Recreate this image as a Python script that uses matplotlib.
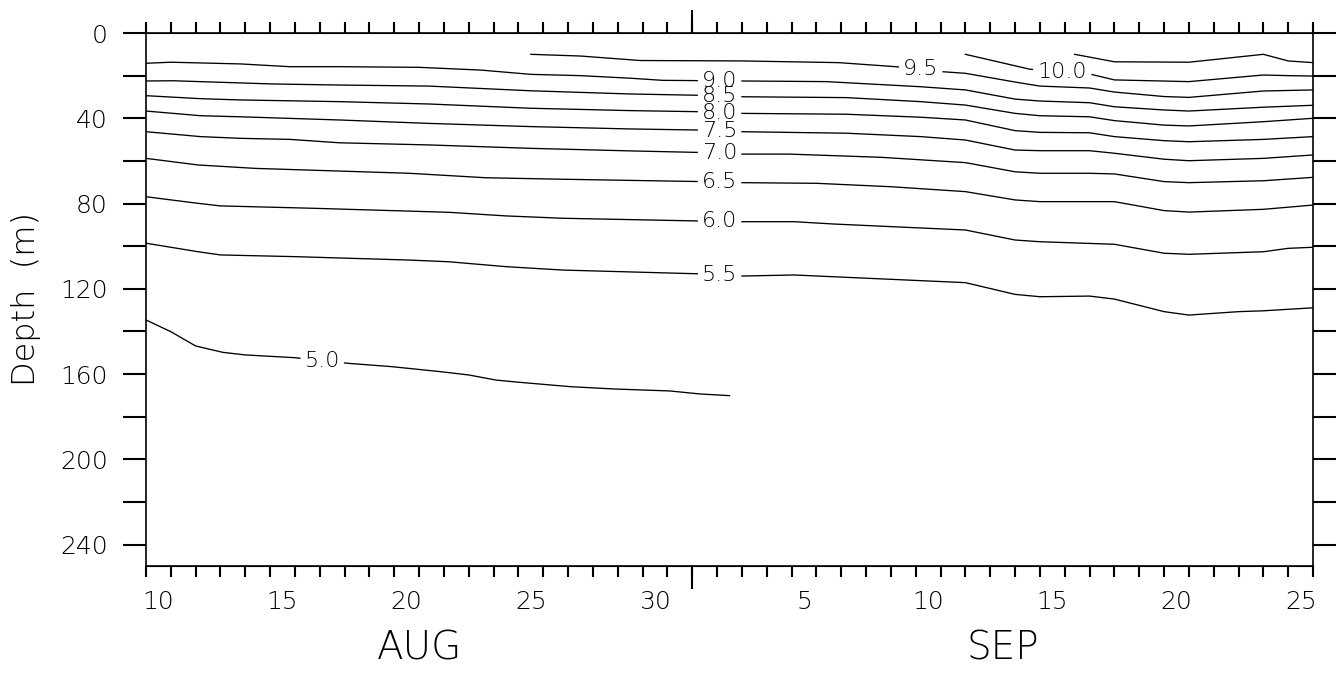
import numpy as np
import matplotlib.pyplot as plt

# time in days since 10 Aug 00Z (1 Sep 00Z = day 22), depth in metres
# isotherms read off the section, one pair of arrays per contour level

t_105 = [37.4, 39, 42, 45, 46, 47]
d_105 = [10.0, 13.5, 13.7, 10.0, 13.1, 13.9]

t_100 = [33, 35.6, 38, 39, 42, 45, 46, 47]
d_100 = [10.0, 17.0, 19.2, 22.0, 22.8, 19.7, 20.0, 20.2]

t_95 = [15.5, 17.5, 19.9, 24, 27.9, 30.2, 32, 33, 35, 36, 38, 39, 41, 42, 45, 47]
d_95 = [10.0, 10.8, 12.9, 13.1, 13.9, 15.8, 18.1, 18.9, 23.0, 24.9, 25.8, 27.7, 29.8, 30.2, 27.2, 26.7]

t_90 = [0, 1, 3.8, 5.8, 7.8, 11, 13.5, 15.5, 17.5, 19.5, 20.8, 24, 27.4, 29.6, 31.2, 33, 35, 36, 38, 39, 41, 42, 45, 47]
d_90 = [14.2, 13.7, 14.5, 15.8, 15.8, 16.1, 17.4, 19.4, 20.0, 21.2, 22.2, 22.5, 22.8, 24.2, 25.2, 26.7, 31.0, 31.9, 32.7, 34.6, 36.1, 36.6, 34.8, 33.9]

t_85 = [0, 1.1, 5.1, 7.8, 11.4, 15.5, 19.5, 22.2, 24, 28.2, 31.2, 33, 35, 36, 38, 39, 41, 42, 45, 47]
d_85 = [22.5, 22.4, 23.9, 24.4, 24.9, 27.1, 28.6, 29.2, 29.9, 30.3, 32.2, 33.8, 37.7, 38.8, 39.3, 41.1, 43.2, 43.6, 41.6, 40.0]

t_80 = [0, 2.2, 3.8, 7.8, 11.4, 15.5, 19.5, 22.2, 24, 28.2, 31.2, 33, 35, 36, 38, 39, 41, 42, 45, 47]
d_80 = [29.4, 30.8, 31.4, 32.2, 33.3, 35.3, 36.4, 36.9, 37.7, 38.1, 39.5, 40.8, 45.8, 46.6, 46.8, 48.6, 50.5, 51.0, 49.9, 48.6]

t_75 = [0, 2.2, 3.8, 7.8, 11.4, 15.5, 19.5, 22.2, 24, 28.2, 31.2, 33, 35, 36, 38, 39, 41, 42, 45, 47]
d_75 = [36.6, 38.8, 39.3, 40.8, 42.4, 43.9, 45.0, 45.5, 46.3, 47.0, 48.6, 50.2, 54.9, 55.2, 55.2, 56.4, 59.2, 59.9, 58.8, 57.2]

t_70 = [0, 2.2, 3.8, 5.8, 7.8, 11.4, 15.5, 19.5, 22.2, 24, 25.9, 29.6, 33, 35, 36, 38, 39, 41, 42, 45, 47]
d_70 = [46.3, 48.6, 49.4, 49.9, 51.5, 52.5, 54.1, 55.3, 56.0, 56.8, 56.8, 58.3, 60.8, 65.1, 65.8, 65.8, 66.1, 69.7, 70.2, 69.3, 67.7]

t_65 = [0, 2.1, 4.4, 10.6, 13.7, 16.8, 22.4, 24, 27, 30, 33, 35, 36, 39, 41, 42, 45, 47]
d_65 = [58.8, 61.9, 63.5, 65.8, 67.9, 68.6, 69.7, 70.2, 70.5, 72.1, 74.4, 78.3, 79.1, 79.1, 83.3, 84.0, 82.7, 80.7]

t_60 = [0, 2.1, 3, 6.7, 12.2, 14.5, 16.8, 22.4, 24, 26.1, 27.7, 33, 35, 36, 39, 41, 42, 45, 46, 47]
d_60 = [76.8, 79.9, 81.1, 82.2, 84.1, 85.8, 86.9, 88.2, 88.5, 88.5, 89.6, 92.4, 97.1, 97.9, 99.1, 103.3, 103.8, 102.6, 101.0, 100.5]

t_55 = [0, 2.1, 3, 6, 10.6, 12.2, 14.5, 16.8, 22.4, 24, 26.1, 33, 35, 36, 38, 39, 41, 42, 44, 45, 47]
d_55 = [98.6, 102.6, 104.1, 104.9, 106.5, 107.3, 109.6, 111.2, 113.0, 114.0, 113.5, 117.1, 122.6, 123.7, 123.4, 124.8, 130.7, 132.3, 130.7, 130.3, 128.9]

t_50 = [0, 1, 2, 3.1, 4, 6, 8.1, 9.9, 11.9, 13, 14.1, 15, 17.1, 18.9, 21.1, 22.3, 23.5]
d_50 = [134.6, 140.1, 146.8, 149.8, 151.0, 152.3, 154.9, 156.5, 158.9, 160.4, 162.8, 163.8, 165.9, 167.0, 167.9, 169.3, 170.1]

# label text and where along the line it sits (None = unlabeled)
lines = [
    (t_105, d_105, None, None),
    (t_100, d_100, "10.0", 36.9),
    (t_95, d_95, "9.5", 31.2),
    (t_90, d_90, "9.0", 23.1),
    (t_85, d_85, "8.5", 23.1),
    (t_80, d_80, "8.0", 23.1),
    (t_75, d_75, "7.5", 23.1),
    (t_70, d_70, "7.0", 23.1),
    (t_65, d_65, "6.5", 23.1),
    (t_60, d_60, "6.0", 23.1),
    (t_55, d_55, "5.5", 23.1),
    (t_50, d_50, "5.0", 7.1),
]

day_labels = ["10", "15", "20", "25", "30", "5", "10", "15", "20", "25"]
day_label_pos = [0.5, 5.5, 10.5, 15.5, 20.5, 26.5, 31.5, 36.5, 41.5, 46.5]
months = ["AUG", "SEP"]
month_pos = [11, 34.5]


def gapped(t, d, tc, hw):
    # cut a hole in the line where the label goes
    t = np.asarray(t, float)
    d = np.asarray(d, float)
    if tc is None:
        return t, d
    lo, hi = tc - hw, tc + hw
    tt = np.concatenate([t[t < lo], [lo, np.nan, hi], t[t > hi]])
    dd = np.concatenate([d[t < lo], [np.interp(lo, t, d), np.nan, np.interp(hi, t, d)], d[t > hi]])
    return tt, dd


fnt = dict(family="DejaVu Sans", fontweight="light")

fig = plt.figure(figsize=(13.43, 6.75), dpi=100)
ax = fig.add_axes([0.1087, 0.1615, 0.869, 0.7896])

for t, d, lab, tc in lines:
    hw = 0.0
    if lab is not None:
        hw = 1.2 if len(lab) > 3 else 0.9
    tt, dd = gapped(t, d, tc, hw)
    ax.plot(tt, dd, color="black", lw=0.95)
    if lab is not None:
        ax.text(tc, np.interp(tc, t, d), lab, ha="center", va="center",
                fontsize=16, color="black", **fnt)

ax.set_xlim(0, 47)
ax.set_ylim(250, 0)

# x axis: day ticks, labels at day centres, long tick at month change
ax.set_xticks(day_label_pos)
ax.set_xticklabels(day_labels, fontsize=18, **fnt)
ax.set_xticks(np.arange(0, 48), minor=True)
ax.tick_params(axis="x", which="major", length=0, pad=17, top=True)
ax.tick_params(axis="x", which="minor", length=8, width=1.5, direction="out",
               top=True, bottom=True)
for side in ["bottom", "top"]:
    sec = ax.secondary_xaxis(side)
    sec.set_xticks([22])
    sec.tick_params(length=16.5, width=1.5, labelbottom=False, labeltop=False)
    sec.set_xticklabels([])

for name, tpos in zip(months, month_pos):
    ax.text(tpos, -0.154, name, transform=ax.get_xaxis_transform(),
            ha="center", va="center", fontsize=28, **fnt)

# y axis
ax.set_yticks(np.arange(0, 241, 40))
ax.set_yticklabels([str(v) for v in range(0, 241, 40)], fontsize=18, **fnt)
ax.set_yticks(np.arange(20, 241, 40), minor=True)
ax.tick_params(axis="y", which="both", length=16.5, width=1.5, direction="out",
               left=True, right=True, pad=11)
ax.set_ylabel("Depth  (m)", fontsize=23, **fnt)
ax.yaxis.set_label_coords(-0.09, 0.5)

for s in ax.spines.values():
    s.set_linewidth(1.2)

fig.savefig("out.png", dpi=100)
